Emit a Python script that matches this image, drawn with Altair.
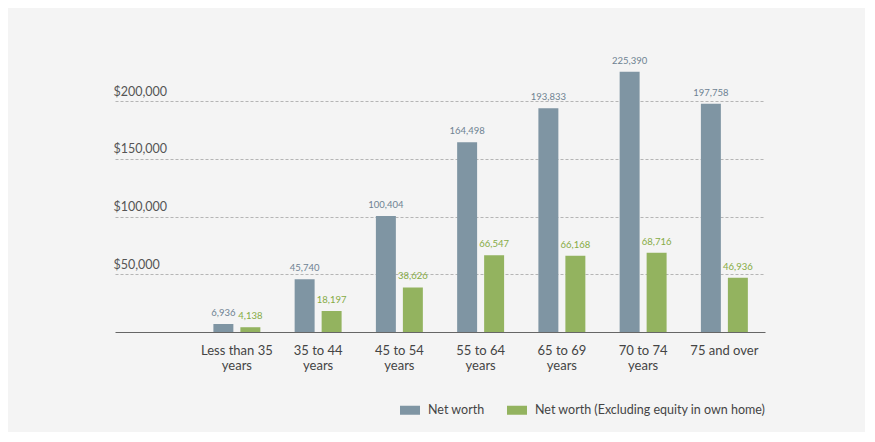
import altair as alt
import pandas as pd

categories = ["", "Less than 35 years", "35 to 44 years", "45 to 54 years", "55 to 64 years",
              "65 to 69 years", "70 to 74 years", "75 and over"]
age_groups = categories[1:]
series_names = ["Net worth", "Net worth (Excluding equity in own home)"]
net_worth = [6936, 45740, 100404, 164498, 193833, 225390, 197758]
net_worth_ex_home = [4138, 18197, 38626, 66547, 66168, 68716, 46936]
y_ticks = [50000, 100000, 150000, 200000]

rows = []
for g, a, b in zip(age_groups, net_worth, net_worth_ex_home):
    rows.append({"age": g, "series": series_names[0], "value": a})
    rows.append({"age": g, "series": series_names[1], "value": b})
df = pd.DataFrame(rows)

FONT = "Lato"
BAR_COLORS = ["#7f95a3", "#93b35f"]

x_enc = alt.X("age:N", sort=categories,
              scale=alt.Scale(domain=categories, paddingInner=0, paddingOuter=0),
              axis=alt.Axis(title=None, labelAngle=0, ticks=False, domainColor="#666666",
                            domainWidth=1, labelColor="#444444", labelFontSize=13,
                            labelPadding=12, labelLineHeight=15, grid=False,
                            labelExpr="indexof(datum.value, 'years') > 0 ? [slice(datum.value, 0, lastindexof(datum.value, ' ')), 'years'] : datum.value"))
xoff = alt.XOffset("series:N", sort=series_names,
                   scale=alt.Scale(domain=series_names, paddingInner=0.26, paddingOuter=0.635))
y_enc = alt.Y("value:Q", scale=alt.Scale(domain=[0, 240000], nice=False),
              axis=alt.Axis(title=None, values=y_ticks, format="$,.0f", domain=False,
                            ticks=False, tickSize=0, labelAlign="left", labelBaseline="bottom",
                            labelPadding=2, labelOffset=-3, labelFontSize=12.5,
                            labelColor="#555555", grid=True, gridDash=[3, 2],
                            gridColor="#b5b5b5", gridWidth=1))

bars = alt.Chart(df).mark_bar().encode(
    x=x_enc, xOffset=xoff, y=y_enc,
    color=alt.Color("series:N", sort=series_names,
                    scale=alt.Scale(domain=series_names, range=BAR_COLORS),
                    legend=alt.Legend(title=None, orient="none", direction="horizontal",
                                      legendX=285, legendY=345,
                                      symbolType="M-1,-0.45H1V0.45H-1Z", symbolSize=400,
                                      symbolStrokeWidth=0, labelFontSize=12.5,
                                      labelColor="#444444", labelOffset=8, labelLimit=1000,
                                      columnPadding=22)),
)

labels = alt.Chart(df).mark_text(dy=-6, fontSize=9.5, baseline="bottom").encode(
    x=alt.X("age:N", sort=categories),
    xOffset=alt.XOffset("series:N", sort=series_names),
    y=alt.Y("value:Q"),
    text=alt.Text("value:Q", format=","),
    color=alt.condition(alt.datum.series == series_names[0], alt.value("#6e8292"), alt.value("#86ab45")),
)

chart = alt.layer(bars, labels).properties(
    width=650, height=277,
    autosize=alt.AutoSizeParams(type="none"),
    padding={"left": 107, "top": 47, "right": 100, "bottom": 100},
    background="#f4f4f4",
).configure(font=FONT).configure_view(strokeWidth=0, stroke="transparent")

chart.save("out.html", embed_options={"renderer": "svg", "actions": False})
